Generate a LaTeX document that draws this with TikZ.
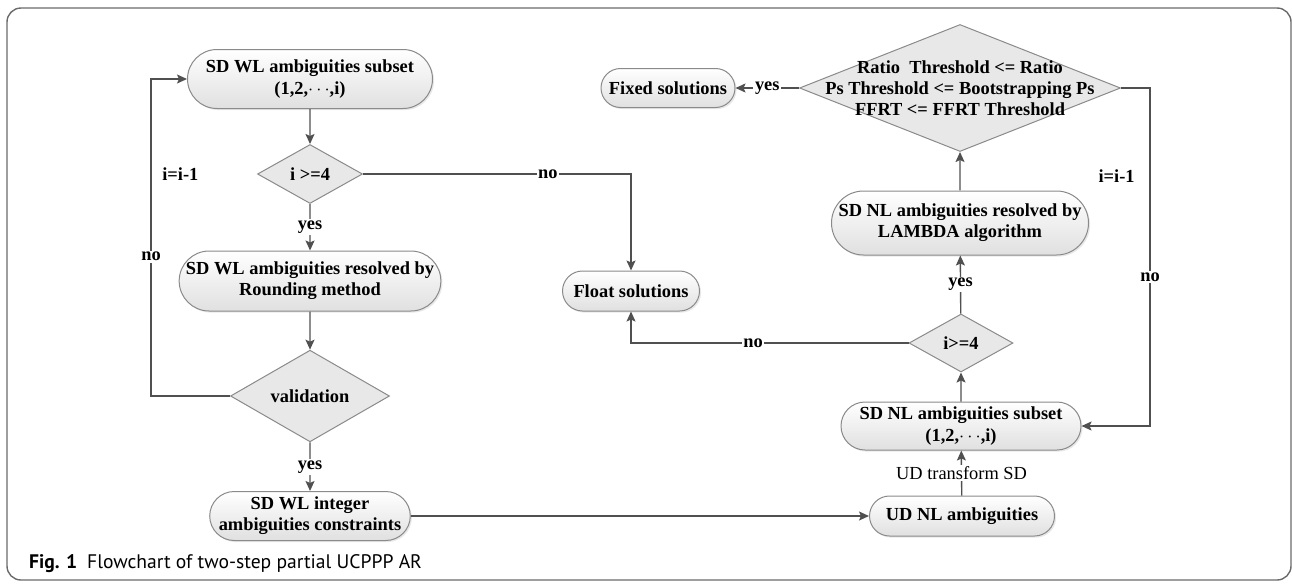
\documentclass[tikz,border=0pt]{standalone}
\usepackage{fontspec}
\setmainfont{Liberation Serif}
\newfontfamily\capfont{PT Sans}
\usetikzlibrary{arrows.meta,shapes.geometric,shapes.misc,shadows}
\definecolor{boxline}{HTML}{8A8A8A}
\definecolor{boxlow}{HTML}{E0E0E0}
\definecolor{diafill}{HTML}{E8E8E8}
\definecolor{inkgray}{HTML}{505050}
\definecolor{framegray}{HTML}{6A6A6A}

\begin{document}
\begin{tikzpicture}[
  x=0.5pt, y=-0.5pt,
  font=\fontsize{9.2}{10.6}\selectfont\bfseries,
  blk/.style = {rounded rectangle, draw=boxline, line width=0.5pt,
                top color=white, bottom color=boxlow, align=center, inner sep=0pt,
                drop shadow={opacity=0.18, shadow xshift=0.8pt, shadow yshift=-0.8pt}},
  dia/.style = {diamond, draw=boxline, line width=0.5pt, fill=diafill,
                align=center, inner sep=0pt},
  ln/.style  = {-{Stealth[length=5pt, width=4.5pt, inset=1pt]}, draw=inkgray, line width=0.7pt},
  lbl/.style = {fill=white, inner sep=0.8pt},
]
\useasboundingbox (0,0) rectangle (1293,584);
\draw[framegray, line width=0.7pt, rounded corners=7pt] (7,8) rectangle (1291,580);

% --- wide-lane column ----------------------------------------------------------------------
\node[blk, minimum width=122.5pt, minimum height=29.5pt] (wlsub) at (310,79)
  {SD WL ambiguities subset\\(1,2,$\cdots$,i)};
\node[dia, minimum width=52.5pt, minimum height=29.5pt] (wldia) at (310,174) {i >=4};
\node[blk, minimum width=122.5pt, minimum height=30pt] (wlres) at (310,281)
  {SD WL ambiguities resolved by\\Rounding method};
\node[dia, minimum width=79.5pt, minimum height=37pt] (valid) at (310,396) {validation};
\node[blk, minimum width=97pt, minimum height=24.5pt] (wlint) at (310,516)
  {SD WL integer\\ambiguities constraints};

% --- middle ----------------------------------------------------------------------------------
\node[blk, minimum width=67pt, minimum height=19.5pt] (fixed) at (668,88) {Fixed solutions};
\node[blk, minimum width=68.5pt, minimum height=20pt] (float) at (631,291) {Float solutions};

% --- narrow-lane column -----------------------------------------------------------------------
\node[dia, minimum width=160.5pt, minimum height=63.5pt,
      label={[align=center]center:Ratio\ \ Threshold <= Ratio\\Ps Threshold <= Bootstrapping Ps\\FFRT <= FFRT Threshold}]
  (test) at (960,88) {};
\node[blk, minimum width=128.5pt, minimum height=32pt] (nlres) at (960,223)
  {SD NL ambiguities resolved by\\LAMBDA algorithm};
\node[dia, minimum width=52pt, minimum height=29pt] (nldia) at (961,343) {i>=4};
\node[blk, minimum width=120pt, minimum height=24pt] (nlsub) at (961,426)
  {SD NL ambiguities subset\\(1,2,$\cdots$,i)};
\node[blk, minimum width=92.5pt, minimum height=20pt] (udnl) at (962,516) {UD NL ambiguities};

% --- connectors -------------------------------------------------------------------------------
\draw[ln] (wlsub) -- (wldia);
\draw[ln] (wldia) -- node[lbl] {yes} (wlres);
\draw[ln] (wldia.east) -| node[lbl, pos=0.345] {no} (float.north);
\draw[ln] (wlres) -- (valid);
\draw[ln] (valid) -- node[lbl] {yes} (wlint);
\draw[ln] (valid.west) -- ++(-79,0) |- node[lbl, pos=0.22] {no}
  node[pos=0.35, anchor=west, xshift=2pt] {i=i-1} (wlsub.west);
\draw[ln] (wlint.east) -- (udnl.west);

\draw[ln] (udnl) -- node[lbl, font=\fontsize{9.2}{10.6}\selectfont] {UD transform SD} (nlsub);
\draw[ln] (nlsub) -- (nldia);
\draw[ln] (nldia) -- node[lbl] {yes} (nlres);
\draw[ln] (nldia.west) -| node[lbl, pos=0.28] {no} (float.south);
\draw[ln] (nlres) -- (test);
\draw[ln] (test.west) -- node[lbl] {yes} (fixed.east);
\draw[ln] (test.east) -- ++(29,0) |- node[lbl, pos=0.28] {no}
  node[pos=0.13, anchor=east, xshift=-4pt] {i=i-1} (nlsub.east);

% --- caption ----------------------------------------------------------------------------------
\node[anchor=base west, font=\capfont\fontsize{9.8}{12}\selectfont] (cap) at (22,568)
  {\textbf{Fig. 1}\enspace Flowchart of two-step partial UCPPP AR};
\end{tikzpicture}
\end{document}
